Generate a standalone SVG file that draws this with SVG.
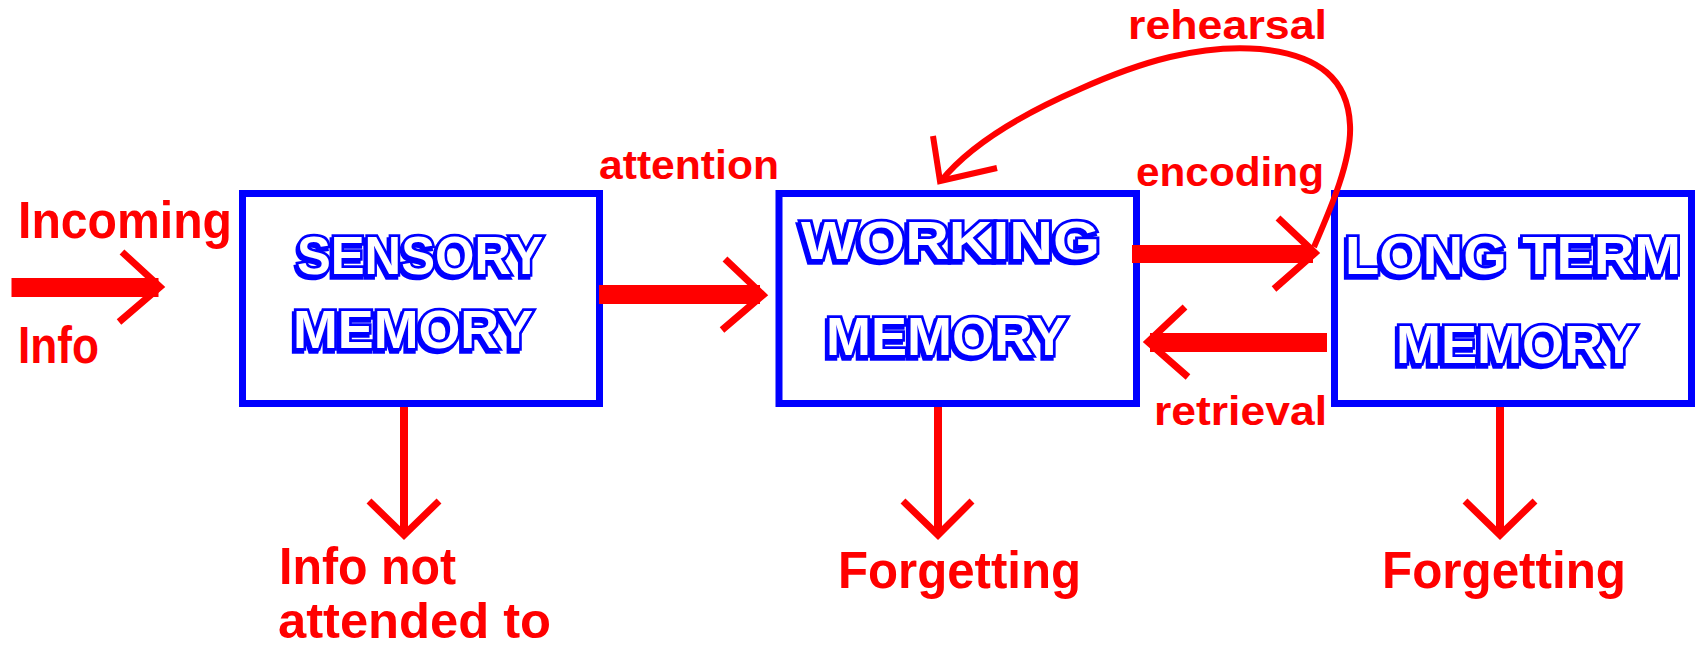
<svg xmlns="http://www.w3.org/2000/svg" width="1696" height="649" viewBox="0 0 1696 649">
<style>
.box{fill:#ffffff;stroke:#0000ff;stroke-width:7}
.title{font-family:"Liberation Sans",Arial,sans-serif;font-weight:bold;font-size:54px;fill:#ffffff;stroke:#0000ff;stroke-width:5.5;paint-order:stroke;stroke-linejoin:miter}
.shadow{font-family:"Liberation Sans",Arial,sans-serif;font-weight:bold;font-size:54px;fill:#0000ff;stroke:#0000ff;stroke-width:5.5;stroke-linejoin:miter}
.big{font-family:"Liberation Sans",Arial,sans-serif;font-weight:bold;font-size:52px;fill:#ff0000}
.small{font-family:"Liberation Sans",Arial,sans-serif;font-weight:bold;font-size:41px;fill:#ff0000}
.shaft{fill:#ff0000}
.head{fill:none;stroke:#ff0000;stroke-width:7;stroke-linejoin:miter}
.stem{stroke:#ff0000;stroke-width:8}
.curve{fill:none;stroke:#ff0000;stroke-width:6}
</style>
<rect width="1696" height="649" fill="#ffffff"/>

<g id="sensory">
<rect class="box" x="242.5" y="193.5" width="357" height="210"/>
<text class="shadow" x="295" y="277" textLength="246" lengthAdjust="spacingAndGlyphs">SENSORY</text>
<text class="title" x="297" y="274" textLength="246" lengthAdjust="spacingAndGlyphs">SENSORY</text>
<text class="shadow" x="291" y="351" textLength="240" lengthAdjust="spacingAndGlyphs">MEMORY</text>
<text class="title" x="293" y="348" textLength="240" lengthAdjust="spacingAndGlyphs">MEMORY</text>
</g>

<g id="working">
<rect class="box" x="779" y="193.5" width="357.5" height="210"/>
<text class="shadow" x="799" y="262" textLength="299" lengthAdjust="spacingAndGlyphs">WORKING</text>
<text class="title" x="801" y="259" textLength="299" lengthAdjust="spacingAndGlyphs">WORKING</text>
<text class="shadow" x="824" y="358" textLength="241" lengthAdjust="spacingAndGlyphs">MEMORY</text>
<text class="title" x="826" y="355" textLength="241" lengthAdjust="spacingAndGlyphs">MEMORY</text>
</g>

<g id="longterm">
<rect class="box" x="1334.5" y="193.5" width="357" height="210"/>
<text class="shadow" x="1343" y="277" textLength="336" lengthAdjust="spacingAndGlyphs">LONG TERM</text>
<text class="title" x="1345" y="274" textLength="336" lengthAdjust="spacingAndGlyphs">LONG TERM</text>
<text class="shadow" x="1394" y="366" textLength="241" lengthAdjust="spacingAndGlyphs">MEMORY</text>
<text class="title" x="1396" y="363" textLength="241" lengthAdjust="spacingAndGlyphs">MEMORY</text>
</g>

<g id="incoming">
<text class="big" x="18" y="238" textLength="214" lengthAdjust="spacingAndGlyphs">Incoming</text>
<text class="big" x="18" y="362.5" textLength="81" lengthAdjust="spacingAndGlyphs">Info</text>
</g>

<g id="not-attended">
<text class="big" x="279" y="584" textLength="177" lengthAdjust="spacingAndGlyphs">Info not</text>
<text class="big" x="278" y="638" textLength="273" lengthAdjust="spacingAndGlyphs" style="font-size:50px">attended to</text>
</g>

<g id="forgetting-wm">
<text class="big" x="838" y="588" textLength="243" lengthAdjust="spacingAndGlyphs">Forgetting</text>
</g>

<g id="forgetting-ltm">
<text class="big" x="1382" y="588" textLength="244" lengthAdjust="spacingAndGlyphs">Forgetting</text>
</g>

<g id="connectors">
<rect class="shaft" x="11.5" y="278" width="147" height="19"/>
<polyline class="head" points="122,252 160,287 119,322"/>

<rect class="shaft" x="599" y="285" width="161" height="19"/>
<polyline class="head" points="725,259 763,295 722,330"/>
<text class="small" x="599" y="178.5" textLength="180" lengthAdjust="spacingAndGlyphs">attention</text>

<rect class="shaft" x="1132" y="245" width="181" height="18"/>
<polyline class="head" points="1278,218 1315,253 1274,289"/>
<text class="small" x="1136" y="185.5" textLength="188" lengthAdjust="spacingAndGlyphs">encoding</text>

<rect class="shaft" x="1150" y="333" width="177" height="19"/>
<polyline class="head" points="1185,307 1148,342 1188,377"/>
<text class="small" x="1154" y="425" textLength="173" lengthAdjust="spacingAndGlyphs">retrieval</text>

<path class="curve" d="M1314,247 C1330,210 1352,160 1350,125 C1348,80 1320,55 1260,49 C1200,44 1140,62 1080,89 C1020,115 970,145 941,181"/>
<polyline class="curve" points="933,136 940,181 997,168" style="stroke-linejoin:miter"/>
<text class="small" x="1128" y="38.5" textLength="199" lengthAdjust="spacingAndGlyphs">rehearsal</text>

<line class="stem" x1="404" y1="407" x2="404" y2="535"/>
<polyline class="head" points="369,501 404,535 439,501"/>

<line class="stem" x1="938" y1="407" x2="938" y2="535"/>
<polyline class="head" points="903,501 938,535 972,501"/>

<line class="stem" x1="1500" y1="407" x2="1500" y2="535"/>
<polyline class="head" points="1465,501 1500,535 1535,501"/>
</g>
</svg>
